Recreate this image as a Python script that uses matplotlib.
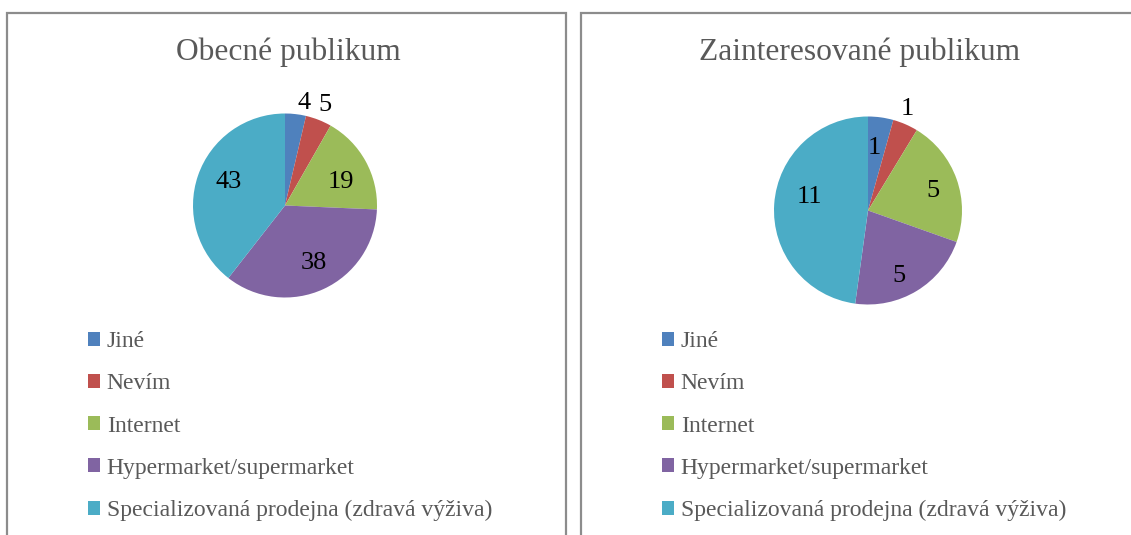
import numpy as np
import matplotlib.pyplot as plt
from matplotlib.patches import Rectangle, Patch

W, H = 1131, 535

categories = ['Jiné', 'Nevím', 'Internet', 'Hypermarket/supermarket',
              'Specializovaná prodejna (zdravá výživa)']
obecne = [4, 5, 19, 38, 43]
zainteresovane = [1, 1, 5, 5, 11]
titles = ['Obecné publikum', 'Zainteresované publikum']

colors = ['#4F81BD', '#C0504D', '#9BBB59', '#8064A2', '#4BACC6']
grey = '#595959'
serif = ['Liberation Serif', 'DejaVu Serif']

fig = plt.figure(figsize=(W / 100, H / 100), dpi=100)
fig.patch.set_facecolor('white')


def px_axes(cx, cy, r):
    # square axes centred on (cx, cy) in pixel coordinates, y from top
    return fig.add_axes([(cx - r) / W, 1 - (cy + r) / H, 2 * r / W, 2 * r / H])


def panel(x0, x1, title, tx, values, center, r, label_r, label_da, leg_x):
    fig.patches.append(Rectangle((x0 / W, -0.05), (x1 - x0) / W, 1.05 - 13 / H,
                                 transform=fig.transFigure, fill=False,
                                 edgecolor='#8c8c8c', lw=1.6))
    fig.text(tx / W, 1 - 52 / H, title, ha='center', va='center',
             fontsize=22.7, color=grey, family=serif)

    ax = px_axes(center[0], center[1], r)
    wedges, _ = ax.pie(values, colors=colors, startangle=90, counterclock=False,
                       wedgeprops=dict(linewidth=0))
    ax.set_xlim(-1, 1)
    ax.set_ylim(-1, 1)
    ax.axis('off')
    # value labels: mid-angle of each wedge, nudged clockwise by label_da degrees
    for w, v, lr, da in zip(wedges, values, label_r, label_da):
        ang = np.deg2rad((w.theta1 + w.theta2) / 2 - da)
        ax.text(lr * np.cos(ang), lr * np.sin(ang), str(v), ha='center',
                va='center_baseline', fontsize=19, color='black', family=serif)

    handles = [Patch(facecolor=c, edgecolor='none') for c in colors]
    ax.legend(handles, categories, loc='upper left',
              bbox_to_anchor=(leg_x / W, 1 - 331 / H),
              bbox_transform=fig.transFigure, frameon=False,
              prop=dict(family=serif, size=17), labelcolor=grey,
              handlelength=0.52, handleheight=0.52, handletextpad=0.27,
              labelspacing=0.9, borderaxespad=0, borderpad=0)


panel(7, 566, titles[0], 288, obecne, (285, 205.5), 92,
      [1.165, 1.196, 0.67, 0.68, 0.67], [3.6, -0.2, 4.4, -2.8, 5.5], 88)
panel(581, 1200, titles[1], 860, zainteresovane, (868, 210.5), 94,
      [0.69, 1.18, 0.725, 0.75, 0.64], [-2.5, -2.9, 0.8, 5.1, 11.1], 662)

fig.savefig('out.png', dpi=100)
